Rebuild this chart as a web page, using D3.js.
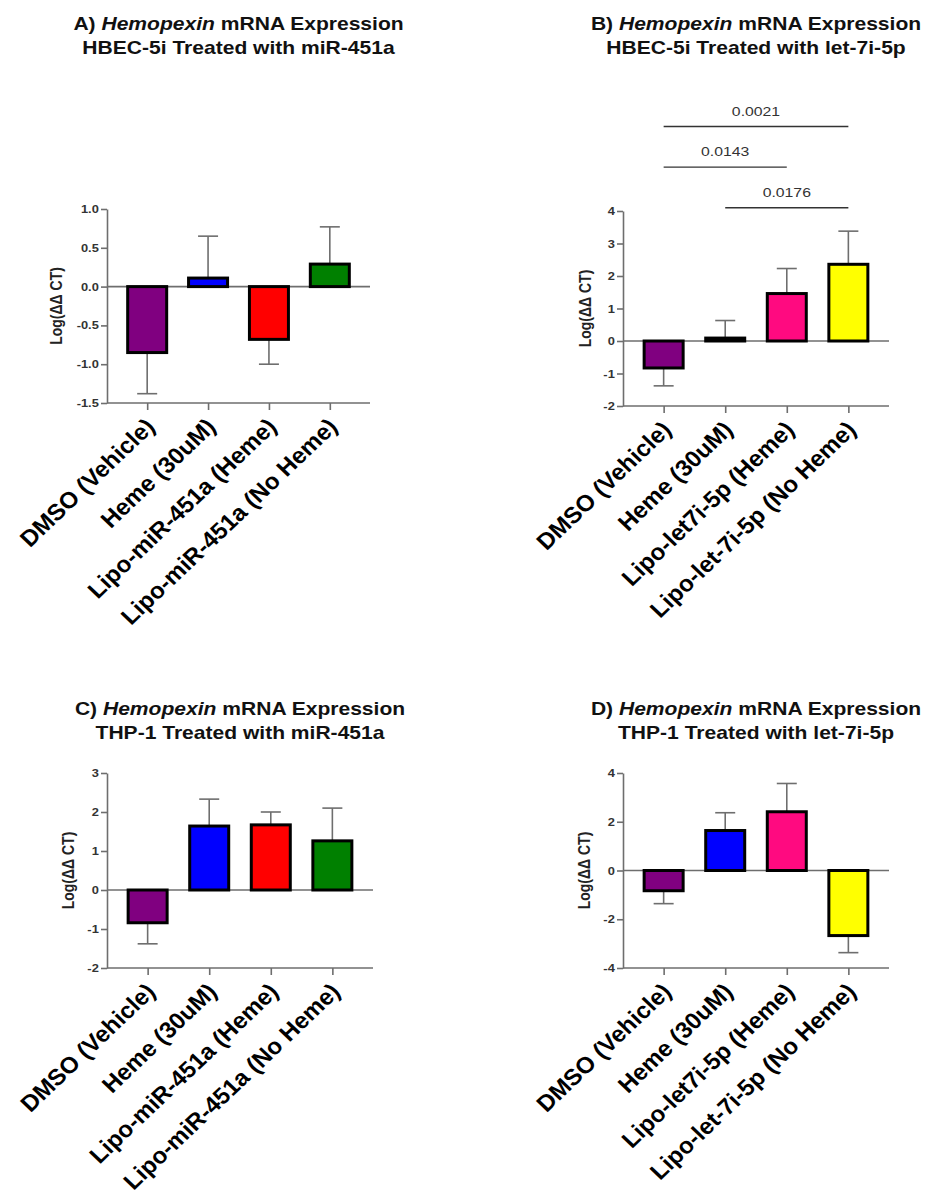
<!DOCTYPE html>
<html>
<head>
<meta charset="utf-8">
<script src="https://cdn.jsdelivr.net/npm/d3@7"></script>
<style>
  body { margin: 0; background: #fff; }
  svg { display: block; font-family: "Liberation Sans", Arial, sans-serif; }
</style>
</head>
<body>
<div id="chart"></div>
<script>
// groups and colours
const groupsMiR = ["DMSO (Vehicle)", "Heme (30uM)", "Lipo-miR-451a (Heme)", "Lipo-miR-451a (No Heme)"];
const groupsLet = ["DMSO (Vehicle)", "Heme (30uM)", "Lipo-let7i-5p (Heme)", "Lipo-let-7i-5p (No Heme)"];
const colorsMiR = ["#800080", "#0000ff", "#ff0000", "#008000"];
const colorsLet = ["#800080", "#0000ff", "#ff0a80", "#ffff00"];

// means and error (one-sided, away from zero)
const meanA = [-0.85, 0.11, -0.68, 0.29];
const errA = [0.53, 0.54, 0.32, 0.48];
const meanB = [-0.83, 0.09, 1.46, 2.36];
const errB = [0.55, 0.54, 0.77, 1.02];
const meanC = [-0.84, 1.64, 1.67, 1.26];
const errC = [0.54, 0.69, 0.33, 0.84];
const meanD = [-0.83, 1.64, 2.41, -2.67];
const errD = [0.53, 0.73, 1.16, 0.70];

// y ticks
const ticksA = [-1.5, -1.0, -0.5, 0, 0.5, 1.0];
const ticksB = [-2, -1, 0, 1, 2, 3, 4];
const ticksC = [-2, -1, 0, 1, 2, 3];
const ticksD = [-4, -2, 0, 2, 4];

// significance brackets for panel B (group indices, level in data units, p value)
const sigFromB = [0, 0, 1];
const sigToB = [3, 2, 3];
const sigLevelB = [6.6, 5.35, 4.1];
const sigLabelB = ["0.0021", "0.0143", "0.0176"];

const titlesTop = [
  ["A) ", "Hemopexin", " mRNA Expression", "HBEC-5i Treated with miR-451a"],
  ["B) ", "Hemopexin", " mRNA Expression", "HBEC-5i Treated with let-7i-5p"],
  ["C) ", "Hemopexin", " mRNA Expression", "THP-1 Treated with miR-451a"],
  ["D) ", "Hemopexin", " mRNA Expression", "THP-1 Treated with let-7i-5p"],
];

const W = 932, H = 1203;
const STRETCH = 1.17;
const axisColor = "#6e6e6e";

const svg = d3.select("#chart").append("svg")
  .attr("width", W).attr("height", H);

const panels = [
  { groups: groupsMiR, colors: colorsMiR, mean: meanA, err: errA, ticks: ticksA, fmt: ".1f",
    left: 107, right: 370, top: 209, bottom: 403, titleY: 30, title: titlesTop[0], ylabX: 56 },
  { groups: groupsLet, colors: colorsLet, mean: meanB, err: errB, ticks: ticksB, fmt: "d",
    left: 623, right: 889, top: 211, bottom: 406, titleY: 30, title: titlesTop[1], ylabX: 585, sig: true },
  { groups: groupsMiR, colors: colorsMiR, mean: meanC, err: errC, ticks: ticksC, fmt: "d",
    left: 107, right: 373, top: 773, bottom: 968, titleY: 715, title: titlesTop[2], ylabX: 68 },
  { groups: groupsLet, colors: colorsLet, mean: meanD, err: errD, ticks: ticksD, fmt: "d",
    left: 623, right: 889, top: 773, bottom: 968, titleY: 715, title: titlesTop[3], ylabX: 584 },
];

panels.forEach((p) => drawPanel(p));

function drawPanel(p) {
  const g = svg.append("g");

  const x = d3.scalePoint()
    .domain(p.groups)
    .range([p.left, p.right])
    .padding(0.66);

  const y = d3.scaleLinear()
    .domain(d3.extent(p.ticks))
    .range([p.bottom, p.top]);

  const barW = 39;
  const rows = p.groups.map((name, i) => ({ name, v: p.mean[i], e: p.err[i], c: p.colors[i] }));

  // zero line
  g.append("line")
    .attr("x1", p.left).attr("x2", p.right)
    .attr("y1", y(0)).attr("y2", y(0))
    .attr("stroke", axisColor).attr("stroke-width", 1.6);

  // error bars (drawn first so bars cover their base)
  const eb = g.selectAll(".err").data(rows).join("g");
  eb.append("line")
    .attr("x1", (d) => x(d.name)).attr("x2", (d) => x(d.name))
    .attr("y1", (d) => y(d.v))
    .attr("y2", (d) => y(d.v + Math.sign(d.v) * d.e))
    .attr("stroke", axisColor).attr("stroke-width", 1.6);
  eb.append("line")
    .attr("x1", (d) => x(d.name) - 10).attr("x2", (d) => x(d.name) + 10)
    .attr("y1", (d) => y(d.v + Math.sign(d.v) * d.e))
    .attr("y2", (d) => y(d.v + Math.sign(d.v) * d.e))
    .attr("stroke", axisColor).attr("stroke-width", 1.6);

  // bars
  g.selectAll(".bar").data(rows).join("rect")
    .attr("x", (d) => x(d.name) - barW / 2)
    .attr("width", barW)
    .attr("y", (d) => y(Math.max(0, d.v)))
    .attr("height", (d) => Math.abs(y(d.v) - y(0)))
    .attr("fill", (d) => d.c)
    .attr("stroke", "#000")
    .attr("stroke-width", 3);

  // left axis
  const yAxis = g.append("g")
    .attr("transform", `translate(${p.left},0)`)
    .call(d3.axisLeft(y).tickValues(p.ticks).tickFormat(d3.format(p.fmt)).tickSize(6).tickSizeOuter(0));
  yAxis.select(".domain").attr("stroke", axisColor).attr("stroke-width", 1.6);
  yAxis.selectAll(".tick line").attr("stroke", axisColor).attr("stroke-width", 1.6);
  yAxis.selectAll(".tick text")
    .attr("x", -7)
    .attr("transform", `scale(${STRETCH},1)`)
    .attr("font-size", 11).attr("font-weight", "bold").attr("fill", "#333")
    .attr("font-family", "Liberation Sans, Arial, sans-serif")
    .text((d) => d3.format(p.fmt)(d).replace("\u2212", "-"));

  // bottom axis
  const xAxis = g.append("g")
    .attr("transform", `translate(0,${p.bottom})`)
    .call(d3.axisBottom(x).tickSize(7).tickSizeOuter(0).tickFormat(""));
  xAxis.select(".domain").attr("d", `M${p.left},0H${p.right}`)
    .attr("stroke", axisColor).attr("stroke-width", 1.6);
  xAxis.selectAll(".tick line").attr("stroke", axisColor).attr("stroke-width", 1.6);

  // category labels
  g.selectAll(".cat").data(p.groups).join("text")
    .attr("transform", (d) => `translate(${x(d) + 9},${p.bottom + 25}) scale(1.05,1) rotate(-45)`)
    .attr("text-anchor", "end")
    .attr("font-size", 23)
    .attr("font-weight", "bold")
    .attr("fill", "#000")
    .text((d) => d);

  // y label
  g.append("text")
    .attr("transform", `translate(${p.ylabX},${(p.top + p.bottom) / 2}) scale(${STRETCH},1) rotate(-90)`)
    .attr("text-anchor", "middle")
    .attr("dy", "0.35em")
    .attr("font-size", 14)
    .attr("font-weight", "bold")
    .attr("fill", "#222")
    .text("Log(ΔΔ CT)");

  // title
  const cx = (p.left + p.right) / 2;
  const t1 = g.append("text")
    .attr("transform", `translate(${cx},${p.titleY}) scale(${STRETCH},1)`)
    .attr("text-anchor", "middle")
    .attr("font-size", 18).attr("font-weight", "bold").attr("fill", "#111");
  t1.append("tspan").text(p.title[0]);
  t1.append("tspan").attr("font-style", "italic").text(p.title[1]);
  t1.append("tspan").text(p.title[2]);
  g.append("text")
    .attr("transform", `translate(${cx},${p.titleY + 24}) scale(${STRETCH},1)`)
    .attr("text-anchor", "middle")
    .attr("font-size", 18).attr("font-weight", "bold").attr("fill", "#111")
    .text(p.title[3]);

  // significance brackets
  if (p.sig) {
    sigLabelB.forEach((lab, i) => {
      const x1 = x(p.groups[sigFromB[i]]);
      const x2 = x(p.groups[sigToB[i]]);
      const ly = y(sigLevelB[i]);
      g.append("line")
        .attr("x1", x1).attr("x2", x2)
        .attr("y1", ly).attr("y2", ly)
        .attr("stroke", "#333").attr("stroke-width", 1.4);
      g.append("text")
        .attr("transform", `translate(${(x1 + x2) / 2},${ly - 11}) scale(${STRETCH},1)`)
        .attr("text-anchor", "middle")
        .attr("font-size", 13.5)
        .attr("fill", "#333")
        .text(lab);
    });
  }
}
</script>
</body>
</html>
